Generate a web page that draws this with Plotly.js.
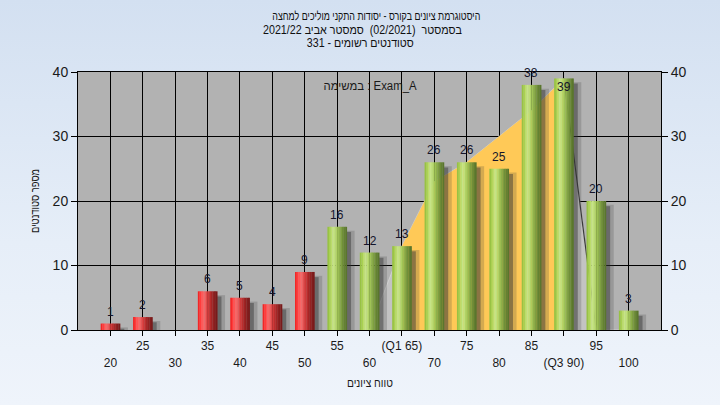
<!DOCTYPE html>
<html>
<head>
<meta charset="utf-8">
<script src="https://cdn.plot.ly/plotly-3.0.1.min.js"></script>
<style>
  html, body { margin: 0; padding: 0; }
  body { width: 720px; height: 405px; background: linear-gradient(to bottom, #d3e0f1 0%, #e6eef8 60%, #eff4fb 100%); }
  #chart { width: 720px; height: 405px; }
</style>
</head>
<body>
<div id="chart"></div>
<script>
// ---- data ----
const categories = ['20','25','30','35','40','45','50','55','60','65','70','75','80','85','90','95','100'];
const counts = [1, 2, 0, 6, 5, 4, 9, 16, 12, 13, 26, 26, 25, 38, 39, 20, 3];
const tickLabels = ['20','25','30','35','40','45','50','55','60','(Q1 65)','70','75','80','85','(Q3 90)','95','100'];
const passMark = 55;
// background distribution area (light grey) and inter-quartile part (orange)
const areaCats = ['60','65','70','75','80','85','90','95','100'];
const areaValues = [0, 13, 23, 26, 30, 34, 39, 0, 0];
const iqrCats = ['65','70','75','80','85','90'];
const iqrValues = [13, 23, 26, 30, 34, 39];
const dropCats = ['90','95'];
const dropValues = [39, 0];

// texts
const titleLines = [
  'היסטוגרמת ציונים בקורס - יסודות התקני מוליכים למחצה',
  'בסמסטר  (02/2021)  סמסטר אביב 2021/22',
  'סטודנטים רשומים - 331'
];
const taskLabel = 'במשימה : Exam_A';
const xTitle = 'טווח ציונים';
const yTitle = 'מספר סטודנטים';

// ---- styling / placement ----
const FONT = 'Liberation Sans, Arial, sans-serif';
const greenStops = ['#98c244','#a9d052','#bbdc6c','#c6e387','#c0df7b','#b0d266','#9fc256','#8eb04b','#7e9f41','#708f39','#648232','#5a762d'];
const redStops   = ['#f22626','#ff3c3c','#ff5454','#f86666','#ee6060','#e04a4a','#cf3a3a','#bb2e2e','#a62626','#942121','#851d1d','#791a1a'];
const BAR_W = 0.6;
const N = greenStops.length;
const PL = 78, PR = 661, PT = 72, PB = 330;
const px2x = p => (p - PL) / (PR - PL);
const py2y = p => (PB - p) / (PB - PT);
const titleCenters = [376, 362, 360];
const titleRows = [16, 30, 43];
const titleWidths = [208, 199, 107];

const traces = [];
// areas behind the bars (base subplot)
traces.push({type:'scatter', x: areaCats, y: areaValues, mode:'lines', fill:'tozeroy',
  fillcolor:'#c3c3c3', line:{width:0.8, color:'#d6d6d6'}, hoverinfo:'skip', showlegend:false});
traces.push({type:'scatter', x: iqrCats, y: iqrValues, mode:'lines', fill:'tozeroy',
  fillcolor:'#ffc957', line:{width:0, color:'#ffc957'}, hoverinfo:'skip', showlegend:false});
traces.push({type:'scatter', x: dropCats, y: dropValues, mode:'lines',
  line:{width:1.2, color:'#3a3a3a'}, hoverinfo:'skip', showlegend:false});

// shadows (overlay subplot, above the areas)
traces.push({type:'bar', yaxis:'y2', x: categories, y: counts.map(v => v - 0.6), width: 0.26, offset: BAR_W/2 - 0.02,
  marker:{color:'rgba(60,60,60,0.22)', line:{width:0}}, hoverinfo:'skip', showlegend:false});
traces.push({type:'bar', yaxis:'y2', x: categories, y: counts.map(v => v - 0.8), width: 0.15, offset: BAR_W/2 - 0.02,
  marker:{color:'rgba(50,50,50,0.45)', line:{width:0}}, hoverinfo:'skip', showlegend:false});

// cylinder-like bars built from stripes
for (let i = 0; i < N; i++) {
  traces.push({
    type:'bar', yaxis:'y2', x: categories, y: counts,
    width: BAR_W / N + 0.008, offset: -BAR_W/2 + i * BAR_W / N,
    marker:{color: categories.map(c => Number(c) >= passMark ? greenStops[i] : redStops[i]), line:{width:0}},
    hoverinfo:'skip', showlegend:false
  });
}
// invisible points so that the second x axis (lower label row) is drawn
traces.push({type:'scatter', mode:'markers', xaxis:'x2', yaxis:'y2',
  x: categories.map((c, i) => i), y: counts, marker:{opacity:0, size:1}, hoverinfo:'skip', showlegend:false});

const annotations = titleLines.map((t, i) => ({
  text: t, xref:'paper', yref:'paper', x: px2x(titleCenters[i]), y: py2y(titleRows[i]),
  xanchor:'center', yanchor:'middle', showarrow:false,
  font:{family: FONT, size: 12, color:'#101010'}
}));
annotations.push({text: taskLabel, xref:'paper', yref:'paper', x: px2x(370), y: py2y(86),
  xanchor:'center', yanchor:'middle', showarrow:false, font:{family: FONT, size: 12, color:'#1a1a1a'}});
annotations.push({text: xTitle, xref:'paper', yref:'paper', x: px2x(370), y: py2y(383),
  xanchor:'center', yanchor:'middle', showarrow:false, font:{family: FONT, size: 12, color:'#1a1a1a'}});
const fitWidths = {0: titleWidths[0], 1: titleWidths[1], 2: titleWidths[2], 3: 93, 4: 46};
// value labels above each bar (positioned through the x2 / y scales)
categories.forEach((c, i) => {
  if (counts[i] <= 0) return;
  annotations.push({
    text: String(counts[i]), xref:'x2', yref:'y', x: i, y: counts[i],
    yshift: counts[i] > 38.5 ? -9 : 12, showarrow:false,
    xanchor:'center', yanchor:'middle',
    font:{family: FONT, size: 12, color:'#14142a'}
  });
});

const layout = {
  width: 720, height: 405,
  margin: {l: PL, r: 720 - PR, t: PT, b: 405 - PB},
  paper_bgcolor: 'rgba(0,0,0,0)',
  plot_bgcolor: '#b2b2b2',
  barmode: 'overlay',
  showlegend: false,
  font: {family: FONT, size: 12, color: '#1a1a1a'},
  xaxis: {
    type: 'category', categoryorder: 'array', categoryarray: categories,
    range: [-1, 17],
    tickmode: 'array', tickvals: categories,
    ticktext: tickLabels.map((t, i) => i % 2 === 1 ? t : ''),
    ticks: 'outside', ticklen: 5, tickcolor: '#000', tickwidth: 1,
    showline: true, linecolor: '#000', linewidth: 1, mirror: true,
    showgrid: true, gridcolor: '#000', gridwidth: 1, zeroline: false,
    tickfont: {family: FONT, size: 12, color: '#1a1a1a'},
    fixedrange: true
  },
  xaxis2: {
    overlaying: 'x', anchor: 'y', side: 'bottom',
    range: [-1, 17],
    tickmode: 'array', tickvals: categories.map((c, i) => i).filter(i => i % 2 === 0),
    ticktext: tickLabels.filter((t, i) => i % 2 === 0),
    ticks: '', ticklabelstandoff: 24,
    showline: false, showgrid: false, zeroline: false,
    tickfont: {family: FONT, size: 12, color: '#1a1a1a'},
    fixedrange: true
  },
  yaxis: {
    range: [0, 40], tickmode: 'array', tickvals: [0, 10, 20, 30, 40],
    ticks: 'outside', ticklen: 6, tickcolor: '#000',
    showline: true, linecolor: '#000', linewidth: 1,
    showgrid: true, gridcolor: '#000', gridwidth: 1, zeroline: false,
    tickfont: {family: FONT, size: 14, color: '#1a1a1a'},
    title: {text: yTitle, font: {family: FONT, size: 12, color: '#1a1a1a'}, standoff: 10},
    fixedrange: true
  },
  yaxis2: {
    overlaying: 'y', side: 'right', anchor: 'x',
    range: [0, 40], tickmode: 'array', tickvals: [0, 10, 20, 30, 40],
    ticks: 'outside', ticklen: 6, tickcolor: '#000',
    showline: true, linecolor: '#000', linewidth: 1,
    showgrid: false, zeroline: false,
    tickfont: {family: FONT, size: 14, color: '#1a1a1a'},
    fixedrange: true
  },
  annotations: annotations
};

Plotly.newPlot('chart', traces, layout, {displayModeBar: false, staticPlot: true}).then(() => {
  // narrow the Hebrew texts to the width they take in the original
  document.querySelectorAll('#chart .annotation').forEach(g => {
    const idx = Number(g.getAttribute('data-index'));
    if (fitWidths[idx] !== undefined) {
      g.querySelectorAll('text.annotation-text').forEach(t => {
        t.setAttribute('textLength', fitWidths[idx]);
        t.setAttribute('lengthAdjust', 'spacingAndGlyphs');
      });
    }
  });
  const yt = document.querySelector('#chart .ytitle');
  if (yt) { yt.setAttribute('textLength', 64); yt.setAttribute('lengthAdjust', 'spacingAndGlyphs'); }
});
</script>
</body>
</html>
